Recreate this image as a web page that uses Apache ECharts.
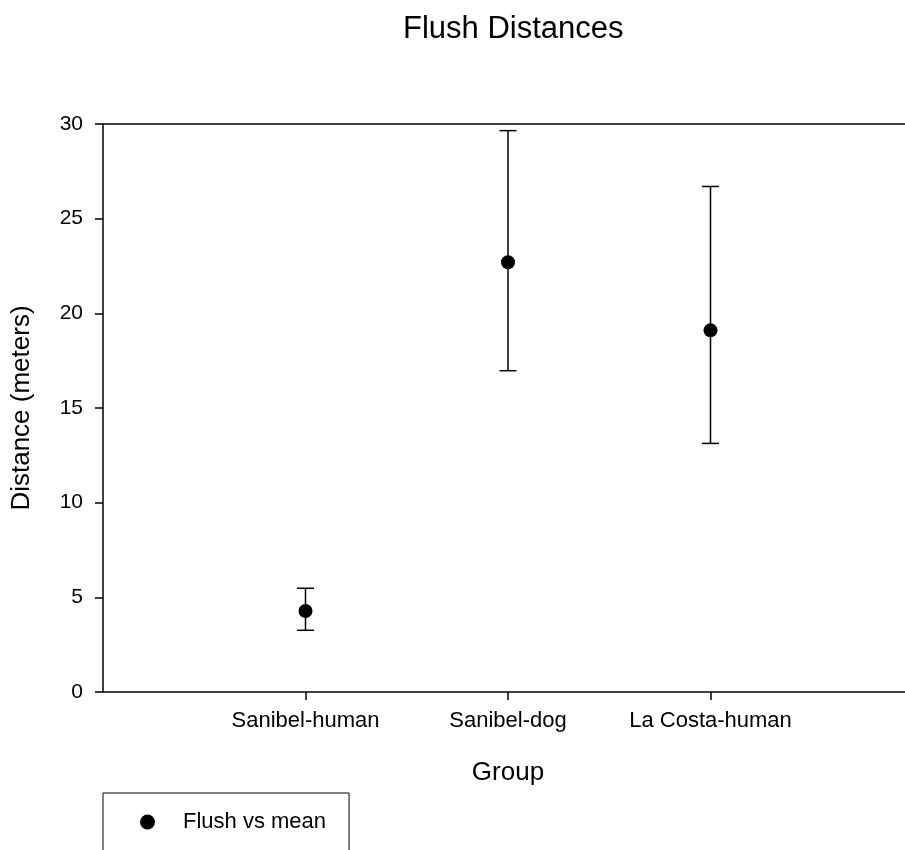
<!DOCTYPE html>
<html>
<head>
<meta charset="utf-8">
<script src="https://cdn.jsdelivr.net/npm/echarts@6/dist/echarts.min.js"></script>
<style>
  html, body { margin: 0; padding: 0; background: #fff; }
  #chart { width: 905px; height: 850px; }
</style>
</head>
<body>
<div id="chart"></div>
<script>
// data
const groups = ['Sanibel-human', 'Sanibel-dog', 'La Costa-human'];
const groupPos = [1, 2, 3];
const means = [4.28, 22.7, 19.1];
const upper = [5.48, 29.65, 26.7];
const lower = [3.26, 16.97, 13.13];
const yTicks = { min: 0, max: 30, step: 5 };

const font = 'Liberation Sans, Arial, sans-serif';

const meanData = groupPos.map((x, i) => [x, means[i]]);
const barData = groupPos.map((x, i) => [x, lower[i], upper[i]]);

// error bar: stem + two caps
function renderErrorBar(params, api) {
    const x = api.value(0);
    const lo = api.coord([x, api.value(1)]);
    const hi = api.coord([x, api.value(2)]);
    const half = 8.5;
    const style = { stroke: '#000', lineWidth: 1.5 };
    return {
        type: 'group',
        children: [
            { type: 'line', shape: { x1: lo[0], y1: lo[1], x2: hi[0], y2: hi[1] }, style },
            { type: 'line', shape: { x1: hi[0] - half, y1: hi[1], x2: hi[0] + half, y2: hi[1] }, style },
            { type: 'line', shape: { x1: lo[0] - half, y1: lo[1], x2: lo[0] + half, y2: lo[1] }, style }
        ]
    };
}

const option = {
    animation: false,
    backgroundColor: '#fff',
    textStyle: { fontFamily: font, color: '#000' },
    title: {
        text: 'Flush Distances',
        left: 398,
        top: 9,
        textStyle: { fontFamily: font, fontSize: 31, fontWeight: 'normal', color: '#000' }
    },
    legend: {
        left: 103,
        top: 793,
        orient: 'vertical',
        padding: [18, 23, 30, 37],
        borderColor: '#000',
        borderWidth: 1,
        itemWidth: 15,
        itemHeight: 15,
        data: [{ name: 'Flush vs mean', icon: 'circle', itemStyle: { color: '#000', opacity: 1 } }],
        textStyle: { fontFamily: font, fontSize: 22, color: '#000', padding: [0, 0, 0, 23] }
    },
    grid: { left: 103, top: 124, width: 810, height: 568, outerBoundsMode: 'none' },
    xAxis: [
        {
            type: 'value',
            min: 0,
            max: 4,
            interval: 1,
            position: 'bottom',
            name: 'Group',
            nameLocation: 'middle',
            nameGap: 68,
            nameTextStyle: { fontFamily: font, fontSize: 26, color: '#000' },
            axisLine: { show: true, lineStyle: { color: '#000', width: 1.5 } },
            axisTick: { show: true, inside: false, length: 8, customValues: groupPos, lineStyle: { color: '#000', width: 1.5 } },
            axisLabel: {
                customValues: groupPos,
                margin: 18,
                fontFamily: font,
                fontSize: 22,
                color: '#000',
                formatter: v => groups[groupPos.indexOf(v)] || ''
            },
            splitLine: { show: false }
        },
        {
            type: 'value',
            min: 0,
            max: 4,
            position: 'top',
            axisLine: { show: true, lineStyle: { color: '#000', width: 1.5 } },
            axisTick: { show: false },
            axisLabel: { show: false },
            splitLine: { show: false }
        }
    ],
    yAxis: {
        type: 'value',
        min: yTicks.min,
        max: yTicks.max,
        interval: yTicks.step,
        name: 'Distance (meters)',
        nameLocation: 'middle',
        nameGap: 68,
        nameTextStyle: { fontFamily: font, fontSize: 26, color: '#000' },
        axisLine: { show: true, lineStyle: { color: '#000', width: 1.5 } },
        axisTick: { show: true, inside: false, length: 8, lineStyle: { color: '#000', width: 1.5 } },
        axisLabel: { margin: 20, fontFamily: font, fontSize: 21, color: '#000' },
        splitLine: { show: false }
    },
    series: [
        {
            name: 'error',
            type: 'custom',
            renderItem: renderErrorBar,
            data: barData,
            encode: { x: 0, y: [1, 2] },
            z: 2,
            silent: true
        },
        {
            name: 'Flush vs mean',
            type: 'scatter',
            data: meanData,
            symbol: 'circle',
            symbolSize: 14,
            itemStyle: { color: '#000', opacity: 1 },
            z: 3
        }
    ]
};

const myChart = echarts.init(document.getElementById('chart'));
myChart.setOption(option);
</script>
</body>
</html>
